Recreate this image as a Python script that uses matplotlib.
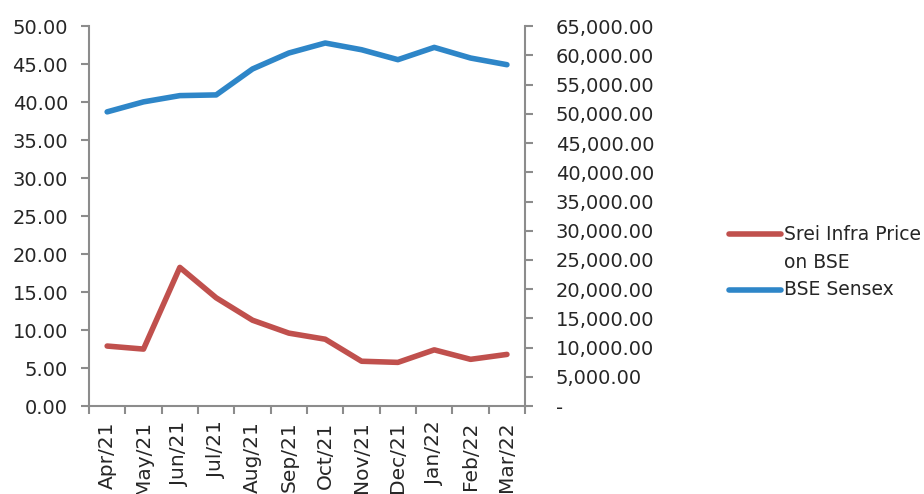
import matplotlib
matplotlib.use("Agg")
import matplotlib.pyplot as plt
from matplotlib.lines import Line2D
from matplotlib.ticker import FixedLocator, FuncFormatter
import numpy as np

# %% data
months = ["Apr/21", "May/21", "Jun/21", "Jul/21", "Aug/21", "Sep/21",
          "Oct/21", "Nov/21", "Dec/21", "Jan/22", "Feb/22", "Mar/22"]
srei_price = [7.9, 7.5, 18.25, 14.25, 11.3, 9.6, 8.8, 5.9, 5.75, 7.4, 6.15, 6.8]
sensex = [50340, 52050, 53120, 53240, 57680, 60410,
          62120, 60970, 59270, 61370, 59550, 58410]
labels = ["Srei Infra Price\non BSE", "BSE Sensex"]

red = "#C0504D"
blue = "#2E86C8"
grey = "#8C8C8C"
txt = "#262626"

plt.rcParams['font.family'] = ['DejaVu Sans']

fig = plt.figure(figsize=(9.24, 4.94), dpi=100)
ax = fig.add_axes([0.0963, 0.178, 0.472, 0.769])
ax2 = ax.twinx()

x = np.arange(len(months))
ax.plot(x, srei_price, color=red, lw=4, solid_capstyle='round', zorder=3)
ax2.plot(x, sensex, color=blue, lw=4, solid_capstyle='round', zorder=3)

ax.set_xlim(-0.5, len(months) - 0.5)
ax.set_ylim(0, 50)
ax2.set_ylim(0, 65000)
ax.set_yticks(np.arange(0, 50.1, 5))
ax2.set_yticks(np.arange(0, 65001, 5000))
ax.yaxis.set_major_formatter(FuncFormatter(lambda v, p: f"{v:.2f}"))
ax2.yaxis.set_major_formatter(
    FuncFormatter(lambda v, p: "-" if v == 0 else f"{v:,.2f}"))

ax.set_xticks(x)
ax.set_xticklabels(months, rotation=90)
ax.xaxis.set_minor_locator(FixedLocator(np.arange(-0.5, len(months), 1)))

for a in (ax, ax2):
    a.spines['top'].set_visible(False)
    for s in ('left', 'right', 'bottom'):
        a.spines[s].set_color(grey)
        a.spines[s].set_linewidth(1.5)
ax.spines['right'].set_visible(False)
ax2.spines['left'].set_visible(False)
ax2.spines['bottom'].set_visible(False)

ax.tick_params(axis='x', which='major', length=0, pad=11,
               labelsize=14.5, labelcolor=txt)
ax.tick_params(axis='x', which='minor', length=6, width=1.5, color=grey,
               direction='out')
ax.tick_params(axis='y', length=6, width=1.5, color=grey, pad=9,
               labelsize=14, labelcolor=txt)
ax2.tick_params(axis='y', length=6, width=1.5, color=grey, pad=16,
                labelsize=14, labelcolor=txt)

# legend drawn Excel-style: key aligned with first line of text
line_h = 28 / 494
for lbl, col, yy in zip(labels, [red, blue], [0.526, 0.413]):
    fig.add_artist(Line2D([0.789, 0.845], [yy, yy], color=col, lw=4,
                          solid_capstyle='round',
                          transform=fig.transFigure))
    for k, part in enumerate(lbl.split("\n")):
        fig.text(0.848, yy - k * line_h, part, ha='left', va='center',
                 fontsize=13.5, color=txt, transform=fig.transFigure)

fig.savefig("out.png", dpi=100)
